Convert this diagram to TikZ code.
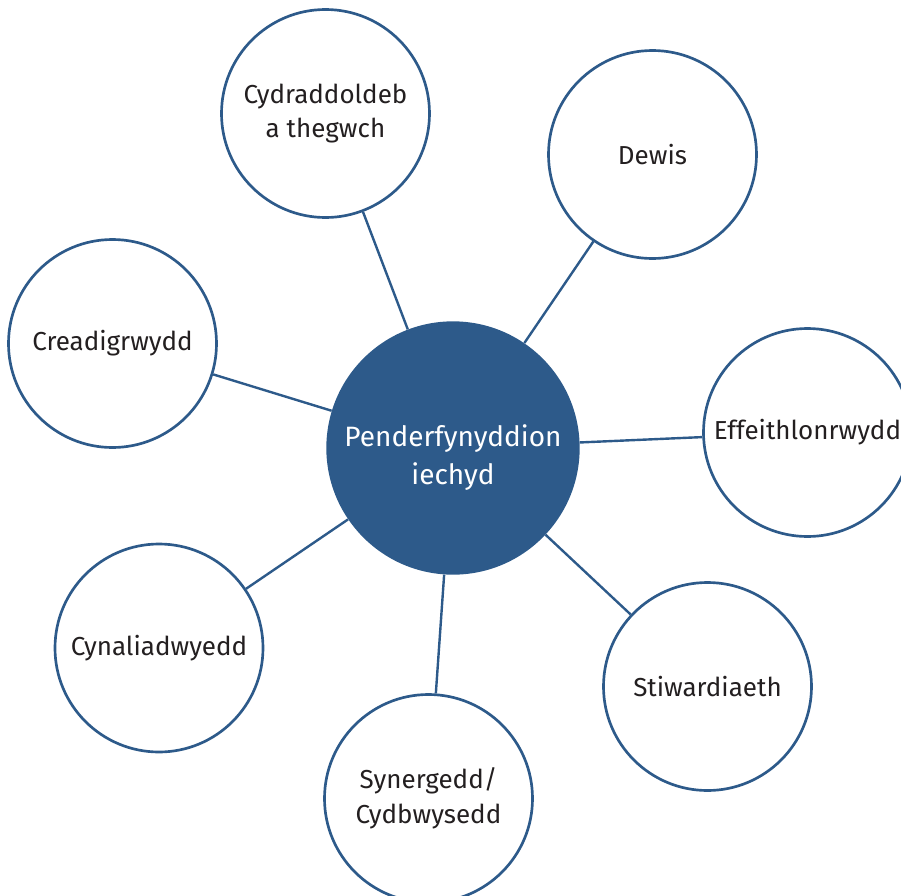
\documentclass[tikz,border=0pt]{standalone}
\usepackage{fontspec}
\setmainfont{Fira Sans}
\definecolor{hubblue}{RGB}{45,90,138}
\definecolor{inkgrey}{RGB}{35,31,32}
\tikzset{
  petal/.style={circle, draw=hubblue, line width=2pt, fill=white, minimum size=156pt,
    inner sep=0pt, align=center, text=inkgrey, font=\fontsize{19.5}{26}\selectfont},
  hub/.style={circle, fill=hubblue, minimum size=190pt, inner sep=0pt},
  hubtext/.style={align=center, text=white, inner sep=0pt, font=\fontsize{21}{28.5}\selectfont},
  spoke/.style={draw=hubblue, line width=1.8pt}
}

\begin{document}
\begin{tikzpicture}[x=0.75pt, y=-0.75pt]
                \useasboundingbox (0,0) rectangle (901,896);
                \node[hub] (hub) at (453,448) {};
                \node[hubtext] (hubtxt) at ([yshift=-7pt]hub.center) {Penderfynyddion\\iechyd};
                \node[petal] (tegwch) at (325.5,113.5) {Cydraddoldeb\\a thegwch};
                \node[petal] (dewis) at (652.5,154.5) {Dewis};
                \node[petal] (creadig) at (112.5,343.5) {Creadigrwydd};
                \node[petal] (effeith) at (807.5,432.5) {Effeithlonrwydd};
                \node[petal] (cynal) at (159,648) {Cynaliadwyedd};
                \node[petal] (synerg) at (428.5,798.5) {Synergedd/\\Cydbwysedd};
                \node[petal] (stiward) at (707.5,686.5) {Stiwardiaeth};
                \draw[spoke] (hub) -- (tegwch);
                \draw[spoke] (hub) -- (dewis);
                \draw[spoke] (hub) -- (creadig);
                \draw[spoke] (hub) -- (effeith);
                \draw[spoke] (hub) -- (cynal);
                \draw[spoke] (hub) -- (synerg);
                \draw[spoke] (hub) -- (stiward);
\end{tikzpicture}
\end{document}
